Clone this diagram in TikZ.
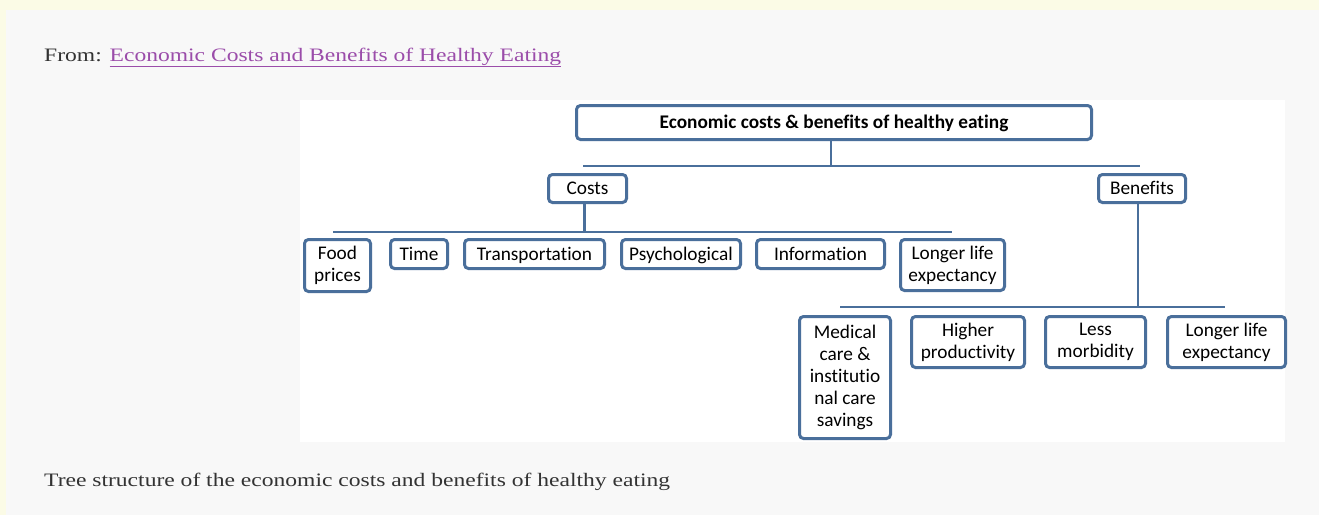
\documentclass[tikz,border=0pt]{standalone}
\usepackage{fontspec}
\setmainfont[Ligatures=CommonOff]{Carlito}
\newfontfamily\pagefont[FakeStretch=1.24]{Liberation Serif}
\usetikzlibrary{positioning, calc}
\definecolor{boxblue}{HTML}{4A6F9B}
\definecolor{pagegray}{HTML}{F8F8F8}
\definecolor{pagecream}{HTML}{FBFBE6}
\definecolor{linkpurple}{HTML}{9B4DAA}
\definecolor{pagetext}{HTML}{333333}

\begin{document}
\begin{tikzpicture}[x=1pt, y=-1pt,
    item/.style={rectangle, 
      rounded corners=4pt, 
      draw=boxblue, 
      line width=3pt, 
      fill=white, 
      align=center, 
      inner sep=0pt, 
      font=\fontsize{19.3}{22}\selectfont},
    oneline/.style={item, text height=16.7pt, text depth=4.3pt},
    branch/.style={draw=boxblue, line width=2.5pt},
    pagetxt/.style={anchor=base west, inner sep=0pt, text=pagetext, 
      font=\pagefont\fontsize{19}{22}\selectfont}]

% PAGE
  \fill[pagecream] (0,0) rectangle (1319,515);
  \fill[pagegray] (6,10) rectangle (1319,515);
  \fill[white] (300,100) rectangle (1285,442);
  \useasboundingbox (0,0) rectangle (1319,515);

  \node[pagetxt] (source) at (44,61) {From: \textcolor{linkpurple}{\underline{Economic Costs and Benefits of Healthy Eating}}};
  \node[pagetxt] (caption) at (44,486) {Tree structure of the economic costs and benefits of healthy eating};

% TOP LEVELS

  \node[oneline, minimum width=515pt, minimum height=34pt, 
    font=\bfseries\fontsize{19.3}{22}\selectfont] (title) at (834,122.5) 
    {Economic costs \& benefits of healthy eating};

  \node[oneline, minimum width=78pt, minimum height=28pt] (costs) at (587.5,188.5) {Costs};
  \node[oneline, minimum width=87pt, minimum height=28pt] (benefits) at (1142,188.5) {Benefits};

% COSTS

  \node[item, minimum width=66pt, minimum height=52pt, 
    anchor=north west] (foodprices) at (303,238) {Food\\prices};

  \node[oneline, minimum width=57pt, minimum height=29pt, 
    right=17pt of foodprices.north east, anchor=north west] (time) {Time};

  \node[oneline, minimum width=140pt, minimum height=29pt, 
    right=14pt of time.north east, anchor=north west] (transport) {Transportation};

  \node[oneline, minimum width=119pt, minimum height=29pt, 
    right=14pt of transport.north east, anchor=north west] (psycho) {Psychological};

  \node[oneline, minimum width=128pt, minimum height=29pt, 
    right=13pt of psycho.north east, anchor=north west] (info) {Information};

  \node[item, minimum width=104pt, minimum height=51pt, 
    right=13pt of info.north east, anchor=north west] (costlife) {Longer life\\expectancy};

% BENEFITS

  \node[item, minimum width=91pt, minimum height=122pt, 
    anchor=north west] (medical) at (798,315) 
    {Medical\\care \&\\institutio\\nal care\\savings};

  \node[item, minimum width=113pt, minimum height=51pt, 
    right=18pt of medical.north east, anchor=north west] (productivity) {Higher\\productivity};

  \node[item, minimum width=100pt, minimum height=51pt, 
    right=18pt of productivity.north east, anchor=north west] (morbidity) {Less\\morbidity};

  \node[item, minimum width=118pt, minimum height=51pt, 
    right=19pt of morbidity.north east, anchor=north west] (benefitlife) {Longer life\\expectancy};

  % BRANCH LINES

  \coordinate (topbarL) at (583,166);
  \coordinate (topbarR) at (1140,166);
  \coordinate (costbarL) at (333,232);
  \coordinate (costbarR) at (952,232);
  \coordinate (benefitbarL) at (840,307);
  \coordinate (benefitbarR) at (1225,307);

  \draw[branch] ([xshift=-3pt]title.south) -- ([xshift=-3pt]title.south |- topbarL);
  \draw[branch] (topbarL) -- (topbarR);
  \draw[branch] ([xshift=-3pt]costs.south) -- ([xshift=-3pt]costs.south |- costbarL);
  \draw[branch] (costbarL) -- (costbarR);
  \draw[branch] ([xshift=-4pt]benefits.south) -- ([xshift=-4pt]benefits.south |- benefitbarL);
  \draw[branch] (benefitbarL) -- (benefitbarR);

\end{tikzpicture}
\end{document}
